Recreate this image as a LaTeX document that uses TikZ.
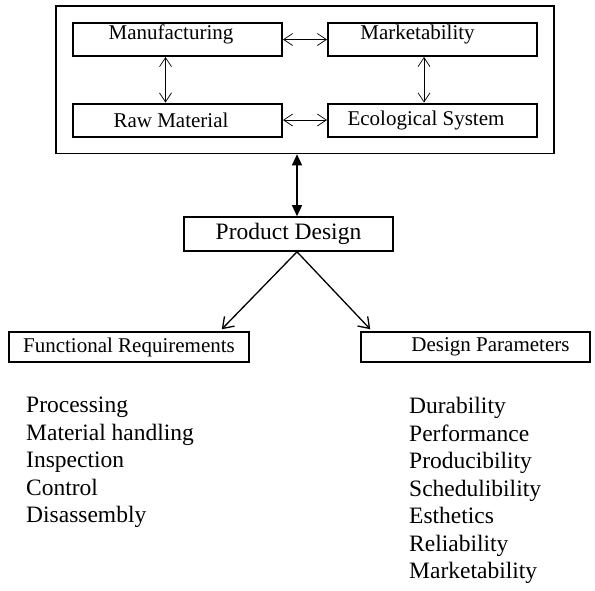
\documentclass[tikz,border=0pt]{standalone}
\usepackage{fontspec}
\setmainfont{Liberation Serif}
\usetikzlibrary{positioning,fit,arrows.meta}
\tikzset{
node distance=80.5pt, % spacing of the four inner boxes
unitbox/.style={draw, line width=2pt, minimum width=209pt, minimum height=33pt, inner sep=0pt, font=\fontsize{21}{24}\selectfont, execute at begin node=\hspace*{-13pt}},
raised/.style={text height=14pt, text depth=15pt}, % text sits high in the top boxes
reqbox/.style={draw, line width=1.5pt, minimum height=30pt, inner sep=0pt, font=\fontsize{21}{24}\selectfont},
listtext/.style={align=left, inner sep=0pt, anchor=north west, font=\fontsize{23.5}{27.5}\selectfont},
link/.style={line width=0.7pt, {Straight Barb[length=9pt,width=12pt]}-{Straight Barb[length=9pt,width=12pt]}},
bigarrow/.style={line width=1.3pt, {Triangle[length=11pt,width=10pt]}-{Triangle[length=11pt,width=10pt]}},
branch/.style={line width=1.3pt, -{Straight Barb[length=10pt,width=14pt]}},
}
\begin{document}
\begin{tikzpicture}[x=1pt,y=-1pt,on grid]
   \useasboundingbox (0,0) rectangle (595,590);
   \node[unitbox,raised] (mfg) at (177.5,39.5) {Manufacturing};
   \node[unitbox,raised] (mkt) [right=255pt of mfg] {\hspace*{-17pt}Marketability};
   \node[unitbox] (raw) [below=of mfg] {Raw Material};
   \node[unitbox] (eco) [below=of mkt] {Ecological System};
   \node[draw, line width=1.6pt, inner sep=16pt, fit=(mfg)(eco)] (sys) {};
   \draw[link] (mfg) -- (mkt);
   \draw[link] (raw) -- (eco);
   \draw[link] ([xshift=-12pt]mfg.south) -- ([xshift=-12pt]raw.north);
   \draw[link] ([xshift=-8.5pt]mkt.south) -- ([xshift=-8.5pt]eco.north);

   \node[draw, line width=1.6pt, minimum width=209pt, minimum height=34pt, inner sep=0pt, font=\fontsize{23.5}{26}\selectfont] (pd) at (288.5,234) {Product Design};
   \draw[bigarrow] ([xshift=8.5pt]pd.north |- sys.south) -- ([xshift=8.5pt]pd.north);

   \node[reqbox, minimum width=240pt] (fr) at (129,347) {Functional Requirements};
   \node[reqbox, minimum width=229pt] (dp) at (475.5,347) {\hspace*{30pt}Design Parameters};
   \draw[branch] ([xshift=8.5pt]pd.south) -- ([xshift=-28pt,yshift=2pt]fr.north east);
   \draw[branch] ([xshift=8.5pt]pd.south) -- ([xshift=10pt,yshift=2pt]dp.north west);

   \node[listtext] (frlist) at (26,397) {Processing\\Material handling\\Inspection\\Control\\Disassembly};
   \node[listtext] (dplist) at (409,397) {Durability\\Performance\\Producibility\\Schedulibility\\Esthetics\\Reliability\\Marketability};
\end{tikzpicture}
\end{document}
